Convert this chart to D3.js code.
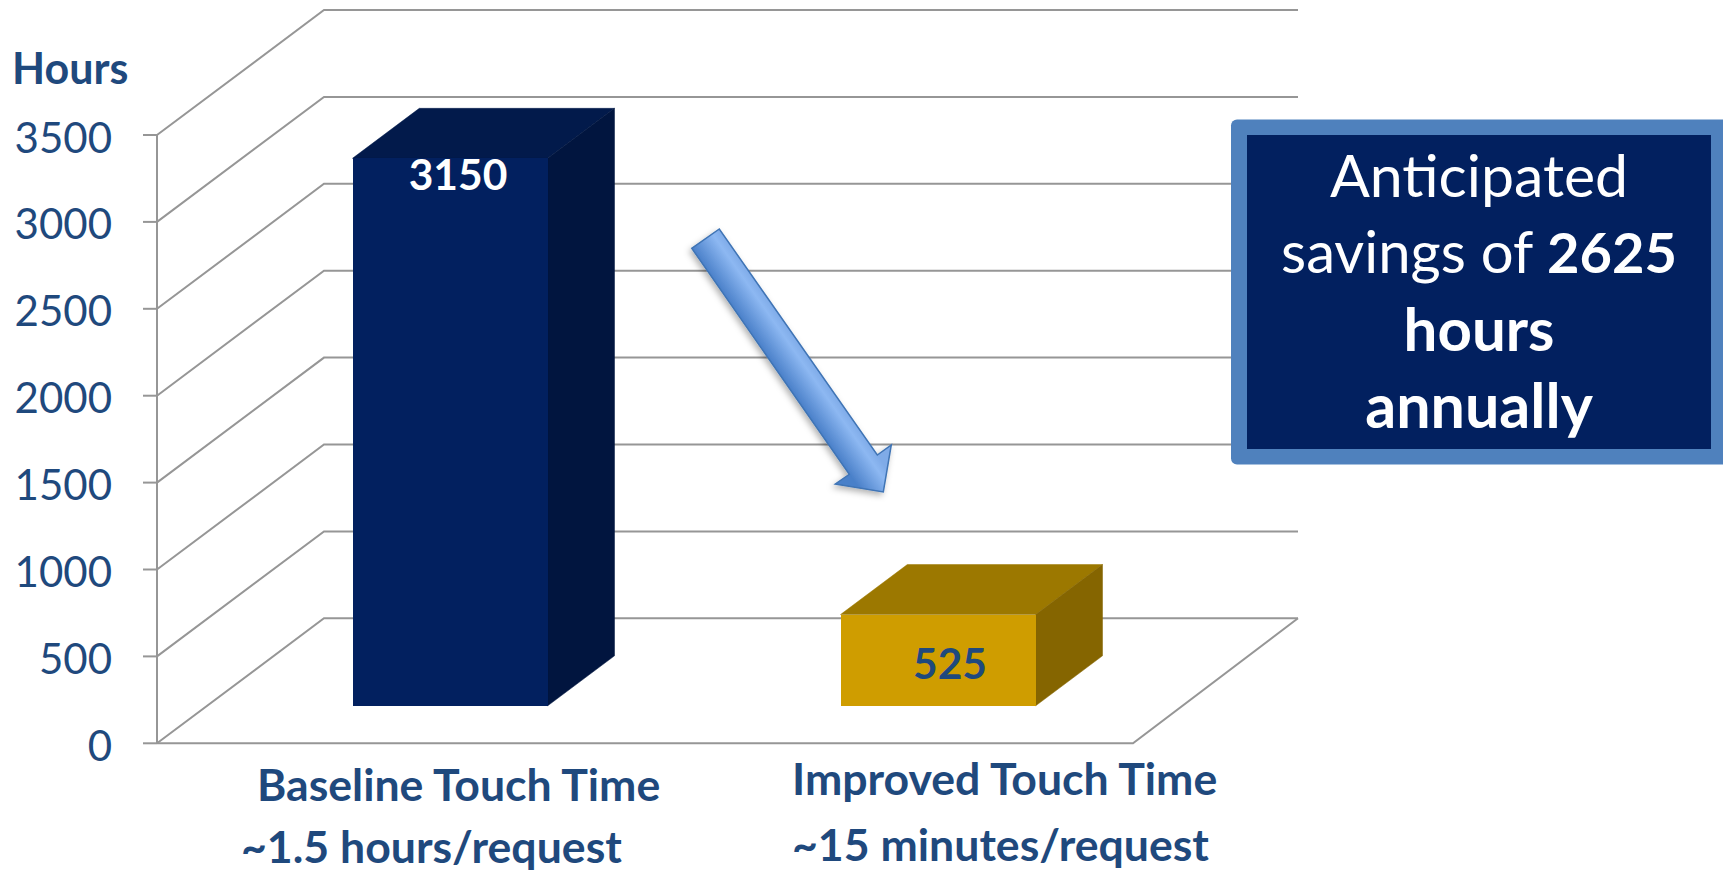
<!DOCTYPE html>
<html><head><meta charset="utf-8">
<script src="https://cdn.jsdelivr.net/npm/d3@7"></script>
<style>html,body{margin:0;background:#fff;overflow:hidden}svg{display:block}text{font-family:Lato,"Open Sans",sans-serif}</style>
</head><body><svg id="c" width="1723" height="871"></svg>
<script>
const categories = ["Baseline Touch Time", "Improved Touch Time"];
const subLabels = ["~1.5 hours/request", "~15 minutes/request"];
const values = [3150, 525];
const tickValues = [0, 500, 1000, 1500, 2000, 2500, 3000, 3500];
const axisTitle = "Hours";

const W = 1723, H = 871;
const svg = d3.select("#c");
const blue = "#1f497d", grid = "#969696";
const y = d3.scaleLinear().domain([0, 3500]).range([743.3, 135]);
const x = d3.scaleBand().domain(categories).range([156, 1132]).paddingInner(0.6).paddingOuter(0.3);
const DX = 167, DY = -125;
const dp = (px, py, t) => [px + DX * t, py + DY * t];
const line = d3.line();

const defs = svg.append("defs");
const g = defs.append("linearGradient").attr("id", "arrowGrad")
  .attr("gradientUnits", "userSpaceOnUse").attr("x1", 691.7).attr("y1", 248.3).attr("x2", 719.3).attr("y2", 229);
g.append("stop").attr("offset", 0).attr("stop-color", "#4a80c9");
g.append("stop").attr("offset", 0.75).attr("stop-color", "#8db8f2");
g.append("stop").attr("offset", 1).attr("stop-color", "#7fabe8");
const f = defs.append("filter").attr("id", "sh").attr("x", "-20%").attr("y", "-20%").attr("width", "140%").attr("height", "140%");
f.append("feDropShadow").attr("dx", -2).attr("dy", 3).attr("stdDeviation", 3).attr("flood-color", "#000").attr("flood-opacity", 0.3);

// walls & grid
const gridG = svg.append("g").attr("fill", "none").attr("stroke", grid).attr("stroke-width", 2);
tickValues.forEach(v => {
  const yy = y(v), back = dp(157, yy, 1);
  gridG.append("path").attr("d", line([[157, yy], back, [1298, back[1]]]));
  gridG.append("line").attr("x1", 143).attr("x2", 157).attr("y1", yy).attr("y2", yy);
});
gridG.append("line").attr("x1", 157).attr("x2", 157).attr("y1", y(3500)).attr("y2", y(0));
gridG.append("path").attr("d", line([[157, y(0)], [1133, y(0)], [1298, y(0) + DY]]));

// tick labels
svg.append("g").selectAll("text").data(tickValues).join("text")
  .attr("x", 112).attr("y", d => y(d) + 17.5).attr("text-anchor", "end")
  .attr("font-size", 42).attr("fill", blue).text(d => d);
svg.append("text").attr("x", 12).attr("y", 84).attr("font-size", 43).attr("font-weight", 700).attr("fill", blue).text(axisTitle);

// 3D bars
const palette = [
  {front: "#02205f", top: "#021a4b", side: "#01153f", label: "#ffffff"},
  {front: "#cf9d00", top: "#9c7800", side: "#856500", label: blue}
];
const t0 = 0.3, t1 = 0.7;
const bars = svg.append("g").selectAll("g").data(values).join("g");
bars.each(function (v, i) {
  const b = d3.select(this), c = palette[i];
  const xl = x(categories[i]), w = x.bandwidth();
  const [fx0, fyB] = dp(xl, y(0), t0);
  const fyT = dp(xl, y(v), t0)[1], fx1 = fx0 + w;
  const ddx = DX * (t1 - t0), ddy = DY * (t1 - t0);
  b.append("path").attr("fill", c.top).attr("stroke", c.top).attr("stroke-width", 0.5).attr("d", line([[fx0, fyT], [fx0 + ddx, fyT + ddy], [fx1 + ddx, fyT + ddy], [fx1, fyT]]) + "Z");
  b.append("path").attr("fill", c.side).attr("stroke", c.side).attr("stroke-width", 0.5).attr("d", line([[fx1, fyT], [fx1 + ddx, fyT + ddy], [fx1 + ddx, fyB + ddy], [fx1, fyB]]) + "Z");
  b.append("rect").attr("x", fx0).attr("y", fyT).attr("width", w).attr("height", fyB - fyT).attr("fill", c.front).attr("shape-rendering", "crispEdges");
});
// data labels
svg.append("text").attr("x", 458).attr("y", 190).attr("text-anchor", "middle").attr("font-size", 42.5).attr("font-weight", 700).attr("fill", palette[0].label).text(values[0]);
svg.append("text").attr("x", 950).attr("y", 679).attr("text-anchor", "middle").attr("font-size", 42.5).attr("font-weight", 700).attr("fill", palette[1].label).text(values[1]);

// arrow
svg.append("path").attr("fill", "url(#arrowGrad)").attr("stroke", "#3f74b5").attr("stroke-width", 1.5).attr("filter", "url(#sh)")
  .attr("d", line([[691.7,248.3],[719.3,229],[877.3,455],[891.3,445],[883.3,492],[835.3,484],[849.3,474.3]]) + "Z");

// category labels
const lab = svg.append("g").attr("font-size", 44.6).attr("font-weight", 700).attr("fill", blue);
lab.append("text").attr("x", 257).attr("y", 801).text(categories[0]);
lab.append("text").attr("x", 241).attr("y", 863).text(subLabels[0]);
lab.append("text").attr("x", 792).attr("y", 795).text(categories[1]);
lab.append("text").attr("x", 792).attr("y", 861).text(subLabels[1]);

// callout
svg.append("rect").attr("x", 1231).attr("y", 119.5).attr("width", 510).attr("height", 345).attr("rx", 6).attr("fill", "#4f81bd");
svg.append("rect").attr("x", 1247).attr("y", 135).attr("width", 464).attr("height", 314).attr("fill", "#02205f");
const call = svg.append("g").attr("font-size", 59).attr("fill", "#fff").attr("text-anchor", "middle");
call.append("text").attr("x", 1479).attr("y", 197).text("Anticipated");
const s = call.append("text").attr("x", 1479).attr("y", 273).attr("font-size", 58);
s.append("tspan").text("savings of ");
s.append("tspan").attr("font-weight", 700).attr("font-size", 56).text("2625");
call.append("text").attr("x", 1479).attr("y", 351).attr("font-weight", 700).attr("font-size", 60).text("hours");
call.append("text").attr("x", 1479).attr("y", 428).attr("font-weight", 700).attr("font-size", 61).text("annually");
</script></body></html>
